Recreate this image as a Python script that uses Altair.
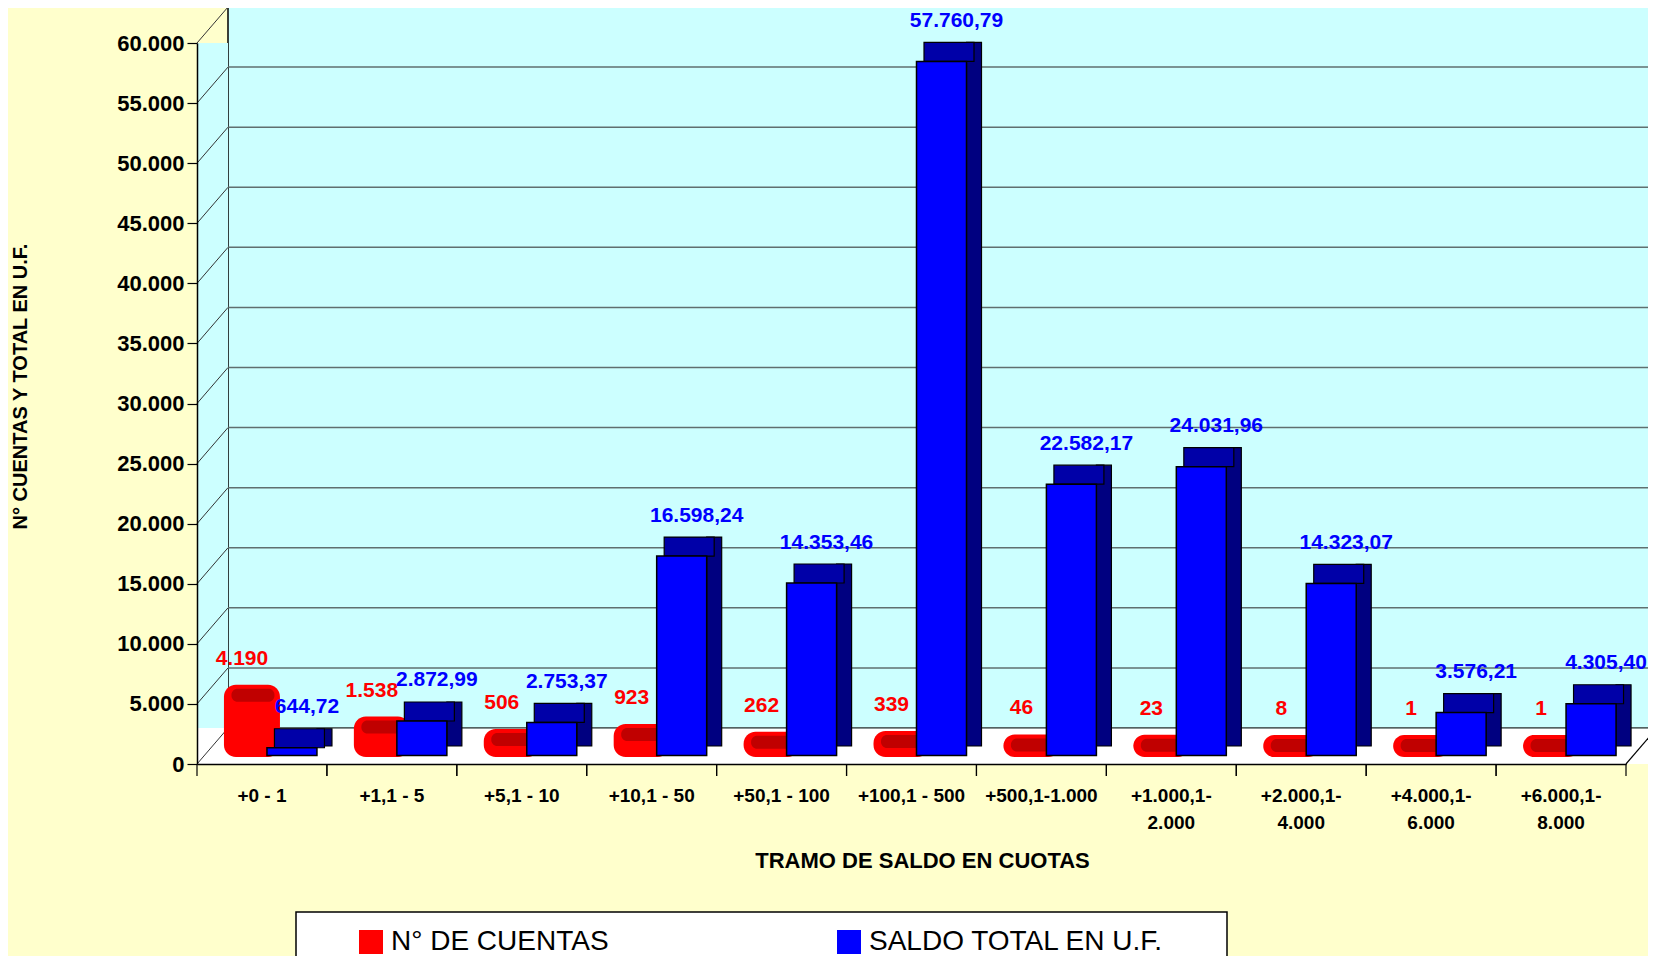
import altair as alt
import pandas as pd

# ---------------- data ----------------
categorias = ["+0 - 1", "+1,1 - 5", "+5,1 - 10", "+10,1 - 50", "+50,1 - 100",
              "+100,1 - 500", "+500,1-1.000", "+1.000,1-\n2.000", "+2.000,1-\n4.000",
              "+4.000,1-\n6.000", "+6.000,1-\n8.000"]
cuentas = [4190, 1538, 506, 923, 262, 339, 46, 23, 8, 1, 1]
saldo = [644.72, 2872.99, 2753.37, 16598.24, 14353.46, 57760.79,
         22582.17, 24031.96, 14323.07, 3576.21, 4305.40]
series = ["N° DE CUENTAS", "SALDO TOTAL EN U.F."]
y_ticks = [0, 5000, 10000, 15000, 20000, 25000, 30000, 35000, 40000,
           45000, 50000, 55000, 60000]


def fmt_int(v):
    return f"{v:,}".replace(",", ".")


def fmt_dec(v):
    return f"{v:,.2f}".replace(",", "X").replace(".", ",").replace("X", ".")


rows = []
for c, n, s in zip(categorias, cuentas, saldo):
    rows.append({"cat": c, "serie": series[0], "valor": n, "etiqueta": fmt_int(n)})
    rows.append({"cat": c, "serie": series[1], "valor": s, "etiqueta": fmt_dec(s)})
df = pd.DataFrame(rows)
ticks_df = pd.DataFrame({"valor": y_ticks})
cats_df = pd.DataFrame({"cat": categorias})
one = pd.DataFrame({"a": [0]})

# ---------------- geometry / style ----------------
W, H = 1429, 721
DX, DY = 31, 36
FONT = "Liberation Sans"
CYAN = "#CCFFFF"
YELLOW = "#FFFFCC"

yscale = alt.Scale(domain=[0, 60000], nice=False, zero=True)
xscale = alt.Scale(paddingInner=0, paddingOuter=0)

x_axis = alt.Axis(title="TRAMO DE SALDO EN CUOTAS", titleFontSize=22, titleFont=FONT,
                  titleFontWeight="bold", titleColor="black", titleY=96, titleX=725,
                  titleBaseline="middle",
                  labelExpr="split(datum.value, '\\n')", labelAngle=0,
                  labelFont=FONT, labelFontSize=19, labelFontWeight="bold",
                  labelColor="black", labelLineHeight=27, labelPadding=22,
                  labelBaseline="top",
                  ticks=False, domainColor="black", domainWidth=1.5, zindex=2)
y_axis = alt.Axis(title="N° CUENTAS Y TOTAL EN U.F.", titleFontSize=20, titleFont=FONT,
                  titleFontWeight="bold", titleColor="black", titleAngle=270,
                  titleX=-177, titleY=343, titleAlign="center", titleBaseline="middle",
                  values=y_ticks,
                  labelExpr="replace(format(datum.value, ','), ',', '.')",
                  labelFont=FONT, labelFontSize=22, labelFontWeight="bold",
                  labelColor="black", labelPadding=3,
                  tickSize=10, tickColor="black", tickWidth=1.2,
                  domainColor="black", domainWidth=1.5, grid=False, zindex=2)


def X(**kw):
    return alt.X("cat:N", sort=categorias, scale=xscale, axis=x_axis, **kw)


def Y():
    return alt.Y("valor:Q", scale=yscale, axis=y_axis)


# ---------------- decorations (3D box) ----------------
back_wall = alt.Chart(one).mark_rect(fill=CYAN, stroke="black", strokeWidth=1.5,
                                     yOffset=-DY, y2Offset=-DY).encode(
    x=alt.value(DX), x2=alt.value(W + DX),
    y=alt.Y(datum=60000, scale=yscale, axis=y_axis), y2=alt.datum(0))

side_wall = alt.Chart(one).mark_rect(fill=CYAN).encode(
    x=alt.value(0), x2=alt.value(DX), y=alt.value(0), y2=alt.value(H - DY))

floor = alt.Chart(one).mark_rect(fill="white").encode(
    x=alt.value(0), x2=alt.value(W + DX), y=alt.value(H - DY), y2=alt.value(H))

grid_back = alt.Chart(ticks_df).mark_rule(color="#5f6f6f", strokeWidth=1.5,
                                          yOffset=-DY).encode(
    x=alt.value(DX), x2=alt.value(W + DX), y=Y())

grid_diag = alt.Chart(ticks_df).mark_rule(color="#333333", strokeWidth=1,
                                          y2Offset=-DY).encode(
    x=alt.value(0), x2=alt.value(DX), y=Y(), y2=alt.Y2("valor:Q"))

floor_edge = alt.Chart(one).mark_rule(color="black", strokeWidth=1.2).encode(
    x=alt.value(W), x2=alt.value(W + DX), y=alt.value(H), y2=alt.value(H - DY))

xticks0 = alt.Chart(cats_df).mark_rule(color="black", strokeWidth=1.2).encode(
    x=X(bandPosition=0), y=alt.value(H), y2=alt.value(H + 12))
xticks1 = alt.Chart(cats_df).mark_rule(color="black", strokeWidth=1.2).encode(
    x=X(bandPosition=1), y=alt.value(H), y2=alt.value(H + 12))

# ---------------- bars ----------------
color_enc = alt.Color("serie:N", scale=alt.Scale(domain=series, range=["#FF0000", "#0000FF"]),
                      legend=alt.Legend(title=None, orient="none", legendX=160, legendY=885,
                                        direction="horizontal", columnPadding=226,
                                        symbolType="square", symbolSize=576,
                                        symbolStrokeWidth=0,
                                        labelFont=FONT, labelFontSize=28,
                                        labelColor="black", labelOffset=6,
                                        labelLimit=400, padding=0))

base = alt.Chart(df)
red = base.transform_filter(alt.datum.serie == series[0])
blue = base.transform_filter(alt.datum.serie == series[1])

red_body = red.mark_bar(width=56, xOffset=-10, yOffset=-29, y2Offset=-7,
                        cornerRadius=12).encode(
    x=X(), y=Y(), y2=alt.datum(0), color=color_enc)
red_cap = red.mark_bar(width=43, xOffset=-9, yOffset=-25, y2Offset=-12,
                       cornerRadius=6, color="#C00000").encode(
    x=X(), y=Y(), y2=alt.Y2("valor:Q"))

blue_side = blue.mark_bar(width=15, xOffset=62.5, yOffset=-27.5, y2Offset=-18,
                          color="#000080", stroke="black", strokeWidth=1.2).encode(
    x=X(), y=Y(), y2=alt.datum(0))
blue_top = blue.mark_bar(width=50, xOffset=37.5, yOffset=-27.5, y2Offset=-8.5,
                         color="#0000A8", stroke="black", strokeWidth=1.2).encode(
    x=X(), y=Y(), y2=alt.Y2("valor:Q"))
blue_front = blue.mark_bar(width=50, xOffset=30, yOffset=-8.5, y2Offset=-8.5,
                           stroke="black", strokeWidth=1.5).encode(
    x=X(), y=Y(), y2=alt.datum(0), color=color_enc)

red_text = red.mark_text(dx=-20, dy=-55, font=FONT, fontSize=21, fontWeight="bold",
                         color="#FF0000", baseline="middle").encode(
    x=X(), y=Y(), text="etiqueta:N")
blue_text = blue.mark_text(dx=45, dy=-49, font=FONT, fontSize=21, fontWeight="bold",
                           color="#0000FF", baseline="middle").encode(
    x=X(), y=Y(), text="etiqueta:N")

# ---------------- legend box ----------------
legend_box = alt.Chart(one).mark_rect(fill="white", stroke="black", strokeWidth=1.5).encode(
    x=alt.value(99), x2=alt.value(1030), y=alt.value(869), y2=alt.value(990))

chart = alt.layer(
    back_wall, side_wall, floor, grid_back, grid_diag, floor_edge, xticks0, xticks1,
    red_body, red_cap, blue_side, blue_top, blue_front, red_text, blue_text, legend_box
).properties(
    width=W, height=H,
    padding={"left": 189, "top": 35, "right": 22, "bottom": 192},
    autosize=alt.AutoSizeParams(type="none"),
    background=YELLOW,
).configure_view(stroke=None).configure_legend(zindex=5)

chart.save("out.html", embed_options={"renderer": "svg", "actions": False})
